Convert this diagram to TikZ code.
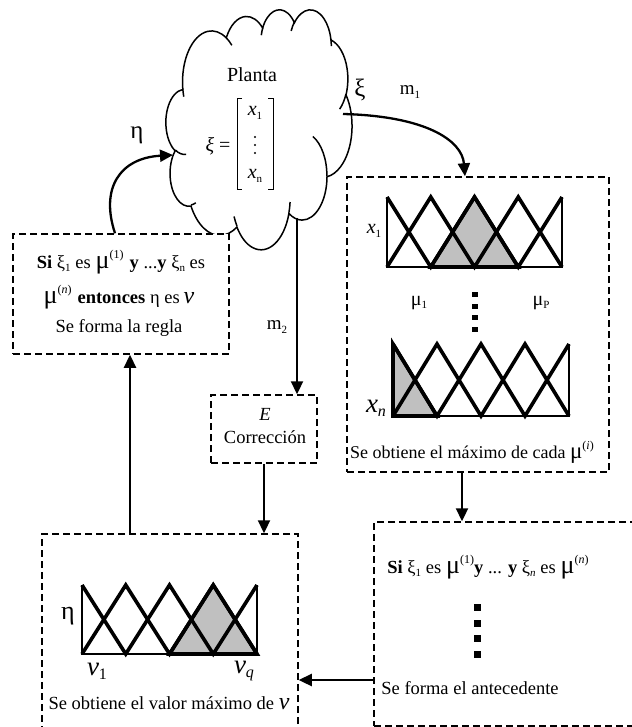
\documentclass[tikz,border=0pt]{standalone}
\usepackage{fontspec}
\setmainfont{Liberation Serif}
\usetikzlibrary{arrows.meta}

% text helpers
\newcommand\fs[1]{\fontsize{#1}{#1}\selectfont}
\newcommand\lo[1]{\raisebox{-0.35ex}{\fontsize{11}{11}\selectfont #1}}
\newcommand\hi[1]{\raisebox{1.1ex}{\fontsize{12}{12}\selectfont #1}}

% cloud arcs: name, x radius, y radius (grid/10 units), start angle, sweep (ray angles)
\newcommand\cloudprep[5]{%
  \pgfmathsetmacro\tmpa{atan2((#2)*sin(#4),(#3)*cos(#4))}%
  \pgfmathsetmacro\tmpb{atan2((#2)*sin((#4)+(#5)),(#3)*cos((#4)+(#5)))}%
  \pgfmathsetmacro\tmpd{\tmpb-\tmpa+360*round(((#5)-\tmpb+\tmpa)/360)}%
  \pgfmathsetmacro\tmpa{0-(\tmpa)}%
  \pgfmathsetmacro\tmpd{0-(\tmpd)}%
  \pgfmathsetmacro\tmpx{(#2)*\sx}%
  \pgfmathsetmacro\tmpy{(#3)*\sy}%
  \expandafter\xdef\csname cl#1s\endcsname{\tmpa}%
  \expandafter\xdef\csname cl#1d\endcsname{\tmpd}%
  \expandafter\xdef\csname cl#1x\endcsname{\tmpx pt}%
  \expandafter\xdef\csname cl#1y\endcsname{\tmpy pt}%
}

% row of five triangular membership functions: x0, spacing, top, bottom, shaded peak
\newcommand\mfrow[5]{%
  \pgfmathsetmacro\mA{#1}%
  \pgfmathsetmacro\mB{#1+#2}%
  \pgfmathsetmacro\mC{#1+2*#2}%
  \pgfmathsetmacro\mD{#1+3*#2}%
  \pgfmathsetmacro\mE{#1+4*#2}%
  \pgfmathsetmacro\sL{max(#1,#1+(#5-1)*#2)}%
  \pgfmathsetmacro\sP{#1+#5*#2}%
  \pgfmathsetmacro\sR{min(\mE,#1+(#5+1)*#2)}%
  \fill[mfgray] (\sL,#4) -- (\sP,#3) -- (\sR,#4) -- cycle;
  \draw[mfthin] (\mA,#3) -- (\mA,#4) -- (\mE,#4) -- (\mE,#3);
  \draw[mfthick] (\mA,#3) -- (\mB,#4) -- (\mC,#3) -- (\mD,#4) -- (\mE,#3);
  \draw[mfthick] (\mA,#4) -- (\mB,#3) -- (\mC,#4) -- (\mD,#3) -- (\mE,#4);
  \draw[mfthick] (\sL,#4) -- (\sP,#3) -- (\sR,#4) -- cycle;
}

\definecolor{mfgray}{RGB}{192,192,192}

\begin{document}
\begin{tikzpicture}[x=1pt,y=-1pt,
  dbox/.style={draw,dash pattern=on 7pt off 4pt,line width=1.5pt,fill=white,inner sep=0pt},
  arr/.style={line width=2.3pt,-{Triangle[length=13pt,width=12pt]}},
  lbl/.style={inner sep=0pt,font=\fs{18.5}},
  cloudline/.style={line width=1.5pt},
  mfthin/.style={line width=1.4pt},
  mfthick/.style={line width=3.6pt,line join=miter},
  carc/.style={start angle=\csname cl#1s\endcsname, delta angle=\csname cl#1d\endcsname,
    x radius=\csname cl#1x\endcsname, y radius=\csname cl#1y\endcsname},
]
\useasboundingbox (0,0) rectangle (631,727);

% ---------- cloud "Planta" ----------
\def\CX{166}\def\CY{9}
\pgfmathsetmacro\sx{186/4320}
\pgfmathsetmacro\sy{240/4320}
\cloudprep{A}{675.3}{919.0}{-190.4875}{123.7805}
\cloudprep{B}{533.3}{726.7}{-144.1024}{89.9452}
\cloudprep{C}{436.5}{594.5}{-145.8079}{99.7230}
\cloudprep{D}{485.7}{659.5}{-130.9861}{117.2417}
\cloudprep{E}{533.3}{727.3}{-78.7089}{109.0269}
\cloudprep{F}{677.5}{922.0}{-46.2673}{130.2690}
\cloudprep{G}{578.5}{786.7}{0.6250}{114.0333}
\cloudprep{H}{675.2}{921.5}{22.4516}{115.1726}
\cloudprep{I}{772.0}{1054.3}{66.2426}{75.7110}
\cloudprep{J}{436.0}{591.8}{-274.9421}{146.7356}
\cloudprep{K}{434.5}{594.5}{-246.8285}{152.5189}
\cloudprep{a}{434.5}{594.5}{86.7420}{26.4295}
\cloudprep{b}{436.0}{591.8}{73.6105}{11.4475}
\cloudprep{c}{675.2}{921.5}{137.6242}{14.0811}
\cloudprep{d}{675.2}{921.5}{6.4533}{15.9984}
\cloudprep{e}{578.5}{786.7}{-70.2924}{70.9174}
\cloudprep{f}{533.3}{727.3}{30.3180}{27.7515}
\cloudprep{g}{485.7}{659.5}{-13.7443}{14.8589}
\cloudprep{h}{485.7}{659.5}{-149.1815}{18.1954}
\cloudprep{i}{436.5}{594.5}{-163.4943}{17.6864}
\cloudprep{j}{675.3}{919.0}{-66.7070}{12.3194}
\cloudprep{k}{675.3}{919.0}{157.6544}{11.8582}

\draw[cloudline,fill=white] ({\CX+390*\sx},{\CY+1437*\sy})
  arc[carc=A] arc[carc=B] arc[carc=C] arc[carc=D] arc[carc=E] arc[carc=F]
  arc[carc=G] arc[carc=H] arc[carc=I] arc[carc=J] arc[carc=K] -- cycle;
\draw[cloudline] ({\CX+469.3*\sx},{\CY+2617.7*\sy}) arc[carc=a];
\draw[cloudline] ({\CX+692.8*\sx},{\CY+3489.9*\sy}) arc[carc=b];
\draw[cloudline] ({\CX+1647.8*\sx},{\CY+3909.0*\sy}) arc[carc=c];
\draw[cloudline] ({\CX+2882.7*\sx},{\CY+3475.1*\sy}) arc[carc=d];
\draw[cloudline] ({\CX+3412.9*\sx},{\CY+2295.4*\sy}) arc[carc=e];
\draw[cloudline] ({\CX+4179.8*\sx},{\CY+1535.4*\sy}) arc[carc=f];
\draw[cloudline] ({\CX+3832.4*\sx},{\CY+542.6*\sy}) arc[carc=g];
\draw[cloudline] ({\CX+2907.8*\sx},{\CY+395.2*\sy}) arc[carc=h];
\draw[cloudline] ({\CX+2214.1*\sx},{\CY+472.0*\sy}) arc[carc=i];
\draw[cloudline] ({\CX+1400.0*\sx},{\CY+519.2*\sy}) arc[carc=j];
\draw[cloudline] ({\CX+412.7*\sx},{\CY+1578.9*\sy}) arc[carc=k];

\node[lbl,font=\fs{20}] (planta) at (252,75) {Planta};
\node[lbl,font=\fs{20}] (xieq) at (218,146) {\textit{ξ} =};
\node[lbl,font=\fs{20}] (vx1) at (255,113) {\textit{x}\lo{1}};
\node[lbl,font=\fs{20}] (vxn) at (255,176) {\textit{x}\lo{n}};
\foreach \yy in {137,145,153} \fill (255,\yy) circle (1.1pt);
\draw[line width=0.9pt] (242,98) -- (237,98) -- (237,189) -- (242,189);
\draw[line width=0.9pt] (268,98) -- (273,98) -- (273,189) -- (268,189);

% ---------- dashed boxes ----------
\node[dbox,minimum width=216pt,minimum height=120pt] (rule) at (121,294) {};
\node[dbox,minimum width=262pt,minimum height=295pt] (mx) at (478,324.5) {};
\node[dbox,minimum width=106pt,minimum height=68pt] (cor) at (264,429) {};
\node[dbox,minimum width=256pt,minimum height=198pt] (bl) at (170,633) {};
\node[dbox,minimum width=266pt,minimum height=204pt] (br) at (507,624) {};

% ---------- rule box ----------
\node[lbl] (r1) at (121,262) {\textbf{Si} ξ\lo{1} es\hspace{5pt}{\fs{26}μ}\hi{(1)}\hspace{6pt}\textbf{y} ...\textbf{y} ξ\lo{n} es};
\node[lbl] (r2) at (119,297) {{\fs{26}μ}\hi{(\textit{n})}\hspace{6pt}\textbf{entonces} η es\hspace{4pt}{\fs{24}\textit{ν}}};
\node[lbl] (r3) at (119,328) {Se forma la regla};

% ---------- fuzzification box ----------
\mfrow{387}{43.75}{197}{267}{2}
\mfrow{393}{44}{344}{416}{0}
\node[lbl,font=\fs{20}] (x1l) at (374,231) {\textit{x}\lo{1}};
\node[lbl,font=\fs{27}] (xnl) at (376,408) {\textit{x}\lo{\fs{16}\textit{n}}};
\node[lbl,font=\fs{20}] (mu1) at (419,303) {μ\lo{1}};
\node[lbl,font=\fs{20}] (muP) at (541,303) {μ\lo{P}};
\foreach \yy in {294,306,317,329} \fill (472,\yy-2.5) rectangle (478,\yy+2.5);
\node[lbl,font=\fs{18}] (maxl) at (472,452) {Se obtiene el máximo de cada {\fs{23}μ}\hi{(\textit{i})}};

% ---------- correction box ----------
\node[lbl,font=\fs{18.5}\itshape] (El) at (265,414) {E};
\node[lbl] (corl) at (265,437) {Corrección};

% ---------- output box ----------
\mfrow{82}{43.75}{585}{654}{3}
\node[lbl,font=\fs{26}] (etal) at (68,616) {η};
\node[lbl,font=\fs{27}] (nu1) at (97,671) {\textit{ν}\lo{\fs{16}1}};
\node[lbl,font=\fs{27}] (nuq) at (244,671) {\textit{ν}\lo{\fs{16}\textit{q}}};
\node[lbl] (vmax) at (169,703) {Se obtiene el valor máximo de {\fs{24}\textit{ν}}};

% ---------- antecedent box ----------
\node[lbl] (a1) at (488,567) {\textbf{Si} ξ\lo{1} es\hspace{5pt}{\fs{26}μ}\hi{(1)}\textbf{y} ... \textbf{y} ξ\lo{\textit{n}} es\hspace{5pt}{\fs{26}μ}\hi{(\textit{n})}};
\foreach \yy in {607,623,638,654} \fill (474,\yy-3.5) rectangle (481,\yy+3.5);
\node[lbl] (a2) at (470,688) {Se forma el antecedente};

% ---------- connectors ----------
\coordinate (etaS) at (115,0);
\coordinate (etaE) at (173,155);
\coordinate (m1S) at (343,114);
\coordinate (m1E) at (465,0);
\coordinate (m2S) at (297,218);
\coordinate (upX) at (130,0);
\coordinate (dnX) at (462,0);
\coordinate (lfY) at (0,680);

\draw[arr] (rule.north -| etaS) .. controls (100,188) and (120,158) .. (etaE);
\draw[arr] (m1S) .. controls (425,116) and (462,140) .. (mx.north -| m1E);
\draw[arr] (m2S) -- (m2S |- cor.north);
\draw[arr] (cor.south) -- (cor.south |- bl.north);
\draw[arr] (bl.north -| upX) -- (rule.south -| upX);
\draw[arr] (mx.south -| dnX) -- (br.north -| dnX);
\draw[arr] (br.west |- lfY) -- (bl.east |- lfY);

\node[lbl,font=\fs{25}] (xil) at (360,90) {ξ};
\node[lbl,font=\fs{19}] (m1l) at (410,92) {m\lo{1}};
\node[lbl,font=\fs{25}] (etaw) at (137,135) {η};
\node[lbl,font=\fs{19}] (m2l) at (277,327) {m\lo{2}};
\end{tikzpicture}
\end{document}
